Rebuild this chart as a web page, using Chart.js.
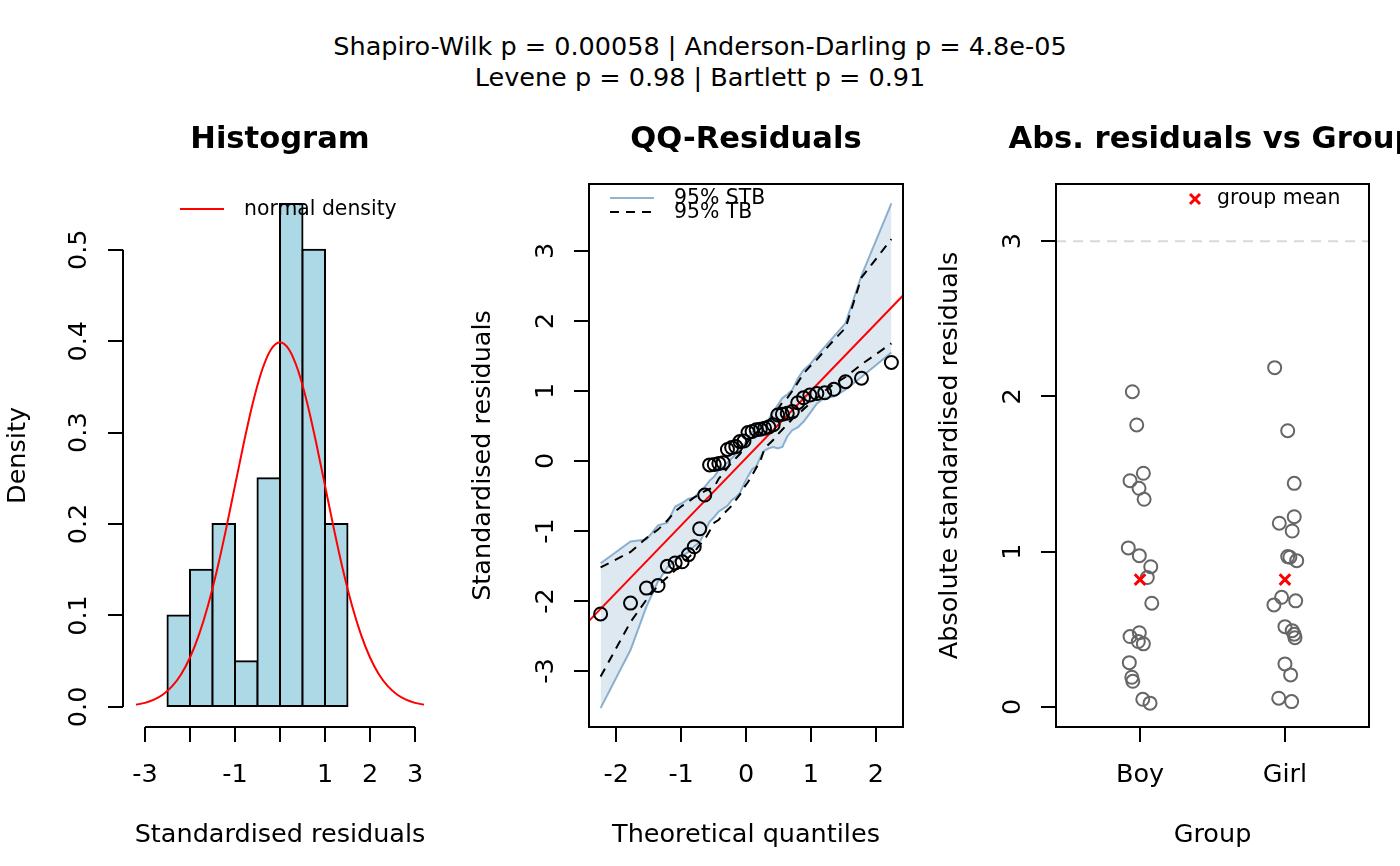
<!DOCTYPE html>
<html><head><meta charset="utf-8">
<script src="https://cdn.jsdelivr.net/npm/chart.js@4.4.1/dist/chart.umd.min.js"></script>
<style>
html,body{margin:0;padding:0;background:#fff;width:1400px;height:866px;overflow:hidden;}
#wrap{position:relative;width:1400px;height:866px;}
canvas{position:absolute;left:0;top:0;}
#sup{position:absolute;left:0;top:31px;width:1400px;text-align:center;font-family:'DejaVu Sans';font-size:25.5px;line-height:31px;color:#000;}
</style></head><body>
<div id="wrap">
<div id="sup"><div>Shapiro-Wilk p = 0.00058 | Anderson-Darling p = 4.8e-05</div><div>Levene p = 0.98 | Bartlett p = 0.91</div></div>
<canvas id="c1" width="1400" height="866"></canvas>
<canvas id="c2" width="1400" height="866"></canvas>
<canvas id="c3" width="1400" height="866"></canvas>
</div>
<script>
// ---------- Panel 1: histogram ----------
const histBinMids = [-2.25,-1.75,-1.25,-0.75,-0.25,0.25,0.75,1.25];
const histDensity = [0.10,0.15,0.20,0.05,0.25,0.55,0.50,0.20];
const normX = [-3.2,-3.0,-2.8,-2.6,-2.4,-2.2,-2.0,-1.8,-1.6,-1.4,-1.2,-1.0,-0.8,-0.6,-0.4,-0.2,0,0.2,0.4,0.6,0.8,1.0,1.2,1.4,1.6,1.8,2.0,2.2,2.4,2.6,2.8,3.0,3.2];
const normY = [0.0024,0.0044,0.0079,0.0136,0.0224,0.0355,0.0540,0.0790,0.1109,0.1497,0.1942,0.2420,0.2897,0.3332,0.3683,0.3910,0.3989,0.3910,0.3683,0.3332,0.2897,0.2420,0.1942,0.1497,0.1109,0.0790,0.0540,0.0355,0.0224,0.0136,0.0079,0.0044,0.0024];
const histXTicks = [-3,-2,-1,0,1,2,3];
const histXTickLabels = ['-3','','-1','','1','2','3'];
const histYTicks = [0,0.1,0.2,0.3,0.4,0.5];
const histYTickLabels = ['0.0','0.1','0.2','0.3','0.4','0.5'];
const normLabel = 'normal density';

// ---------- Panel 2: QQ residuals ----------
const qqTheoretical = [-2.241,-1.780,-1.534,-1.356,-1.213,-1.092,-0.984,-0.887,-0.798,-0.714,-0.636,-0.561,-0.489,-0.419,-0.352,-0.286,-0.221,-0.157,-0.094,-0.031,0.031,0.094,0.157,0.221,0.286,0.352,0.419,0.489,0.561,0.636,0.714,0.798,0.887,0.984,1.092,1.213,1.356,1.534,1.780,2.241];
const qqSample = [-2.185,-2.03,-1.816,-1.779,-1.505,-1.457,-1.44,-1.337,-1.225,-0.968,-0.486,-0.056,-0.049,-0.034,-0.024,0.165,0.191,0.206,0.277,0.285,0.406,0.421,0.446,0.453,0.468,0.485,0.517,0.657,0.668,0.683,0.706,0.833,0.903,0.942,0.964,0.974,1.024,1.133,1.183,1.408];
const stbUpper = [-1.46,-1.15,-1.12,-0.92,-0.88,-0.65,-0.60,-0.54,-0.52,-0.44,-0.37,-0.28,-0.22,-0.13,-0.08,-0.02,0.04,0.10,0.15,0.23,0.33,0.42,0.46,0.50,0.55,0.60,0.70,0.80,0.90,0.95,1.02,1.18,1.30,1.38,1.50,1.63,1.78,1.97,2.65,3.68];
const stbLower = [-3.53,-2.70,-2.08,-1.72,-1.52,-1.42,-1.36,-1.30,-1.22,-1.16,-1.02,-0.87,-0.80,-0.72,-0.68,-0.64,-0.56,-0.52,-0.46,-0.33,-0.22,-0.12,-0.08,0.05,0.15,0.18,0.20,0.18,0.20,0.35,0.44,0.48,0.56,0.68,0.82,0.90,0.92,1.02,1.20,1.55];
const tbUpper = [-1.52,-1.30,-1.10,-0.98,-0.85,-0.72,-0.64,-0.58,-0.52,-0.48,-0.43,-0.40,-0.37,-0.25,-0.18,-0.10,-0.02,0.04,0.10,0.18,0.28,0.35,0.40,0.46,0.52,0.58,0.64,0.74,0.84,0.90,1.00,1.12,1.25,1.35,1.45,1.58,1.73,1.90,2.62,3.17];
const tbLower = [-3.08,-2.30,-1.98,-1.78,-1.66,-1.56,-1.46,-1.38,-1.30,-1.20,-1.12,-1.00,-0.88,-0.84,-0.76,-0.70,-0.64,-0.56,-0.48,-0.38,-0.30,-0.20,-0.10,0.00,0.18,0.24,0.30,0.38,0.45,0.52,0.60,0.66,0.74,0.82,0.90,1.00,1.10,1.20,1.38,1.68];
const qqLineIntercept = 0.04;
const qqLineSlope = 0.96;
const qqXTicks = [-2,-1,0,1,2];
const qqXTickLabels = ['-2','-1','0','1','2'];
const qqYTicks = [-3,-2,-1,0,1,2,3];
const qqYTickLabels = ['-3','-2','-1','0','1','2','3'];
const stbLabel = '95% STB';
const tbLabel = '95% TB';

// ---------- Panel 3: abs residuals vs group ----------
const groups = ['Boy','Girl'];
const boyAbsResid = [2.03,1.816,1.505,1.457,1.408,1.337,1.024,0.974,0.903,0.833,0.668,0.478,0.453,0.421,0.406,0.285,0.191,0.165,0.049,0.024];
const boyJitter   = [-0.053,-0.023,0.023,-0.069,-0.007,0.028,-0.081,-0.005,0.074,0.050,0.081,-0.005,-0.069,-0.012,0.023,-0.074,-0.057,-0.050,0.019,0.069];
const girlAbsResid = [2.185,1.779,1.44,1.225,1.183,1.133,0.968,0.964,0.942,0.706,0.657,0.683,0.517,0.491,0.468,0.446,0.277,0.206,0.056,0.034];
const girlJitter   = [-0.071,0.019,0.064,0.064,-0.039,0.050,0.019,0.034,0.081,-0.023,-0.076,0.074,0.000,0.050,0.064,0.069,0.000,0.039,-0.043,0.046];
const groupMeans = [0.82,0.82];
const refLevel = 3;
const grpYTicks = [0,1,2,3];
const grpYTickLabels = ['0','1','2','3'];
const meanLabel = 'group mean';

// ---------- helpers ----------
const F = 'DejaVu Sans';
const FS = 25.5;
const common = {responsive:false, maintainAspectRatio:false, animation:false, devicePixelRatio:1, events:[]};

function xScale(min,max,ticks,labels,title){
  return {type:'linear', position:'bottom', min:min, max:max, bounds:'data', offset:false,
    afterBuildTicks: s => { s.ticks = ticks.map(v => ({value:v})); },
    afterFit: s => { s.height = 139; },
    grid:{offset:false, drawOnChartArea:false, drawTicks:true, tickLength:15, color:'#000', lineWidth:2},
    border:{display:false},
    ticks:{autoSkip:false, minRotation:0, maxRotation:0, padding:18.5, color:'#000', font:{family:F,size:FS}, callback:(v,i)=>labels[i]},
    title:{display:true, text:title, color:'#000', font:{family:F,size:FS}, padding:{top:0,bottom:15.5}}
  };
}
function yScale(min,max,ticks,labels,width,pad,title){
  return {type:'linear', position:'left', min:min, max:max, bounds:'data',
    afterBuildTicks: s => { s.ticks = ticks.map(v => ({value:v})); },
    afterFit: s => { s.width = width; },
    grid:{drawOnChartArea:false, drawTicks:true, tickLength:15, color:'#000', lineWidth:2},
    border:{display:false},
    ticks:{autoSkip:false, minRotation:90, maxRotation:90, crossAlign:'center', padding:pad, color:'#000', font:{family:F,size:FS}, callback:(v,i)=>labels[i]},
    title:{display:true, text:title, color:'#000', font:{family:F,size:FS}, padding:{top:2.7,bottom:0}}
  };
}

const rDeco = {
  id:'rDeco',
  afterDraw(chart, args, o){
    const ctx = chart.ctx, a = chart.chartArea;
    ctx.save();
    ctx.strokeStyle = '#000'; ctx.lineWidth = 2; ctx.setLineDash([]);
    if (o.box) ctx.strokeRect(a.left, a.top, a.right - a.left, a.bottom - a.top);
    if (o.axisLines) {
      const xs = chart.scales.x, ys = chart.scales.y, xt = xs.ticks, yt = ys.ticks;
      ctx.beginPath();
      ctx.moveTo(xs.getPixelForValue(xt[0].value), a.bottom);
      ctx.lineTo(xs.getPixelForValue(xt[xt.length-1].value), a.bottom);
      ctx.moveTo(a.left, ys.getPixelForValue(yt[0].value));
      ctx.lineTo(a.left, ys.getPixelForValue(yt[yt.length-1].value));
      ctx.stroke();
    }
    if (o.title) {
      ctx.fillStyle = '#000'; ctx.font = 'bold 30.6px "DejaVu Sans"';
      ctx.textAlign = 'center'; ctx.textBaseline = 'middle';
      ctx.fillText(o.title, (a.left + a.right) / 2, 140);
    }
    (o.legend || []).forEach(it => {
      if (it.kind === 'line') {
        ctx.beginPath(); ctx.strokeStyle = it.color; ctx.lineWidth = it.width; ctx.setLineDash(it.dash || []);
        ctx.moveTo(it.x1, it.y); ctx.lineTo(it.x2, it.y); ctx.stroke(); ctx.setLineDash([]);
      } else if (it.kind === 'text') {
        ctx.fillStyle = '#000'; ctx.font = '20.4px "DejaVu Sans"'; ctx.textAlign = 'left'; ctx.textBaseline = 'middle';
        ctx.fillText(it.text, it.x, it.y);
      } else if (it.kind === 'cross') {
        ctx.beginPath(); ctx.strokeStyle = it.color; ctx.lineWidth = 3;
        ctx.moveTo(it.x - it.r, it.y - it.r); ctx.lineTo(it.x + it.r, it.y + it.r);
        ctx.moveTo(it.x - it.r, it.y + it.r); ctx.lineTo(it.x + it.r, it.y - it.r); ctx.stroke();
      }
    });
    ctx.restore();
  }
};

// ---------- Chart 1 ----------
new Chart(document.getElementById('c1'), {
  type:'bar',
  data:{datasets:[
    {type:'line', label:normLabel, data:normX.map((x,i)=>({x:x, y:normY[i]})), borderColor:'#ff0000', borderWidth:2, pointRadius:0, cubicInterpolationMode:'monotone', fill:false, order:0},
    {type:'bar', label:'Density', data:histBinMids.map((x,i)=>({x:x, y:histDensity[i]})), backgroundColor:'#add8e6', borderColor:'#000', borderWidth:2, borderSkipped:false, inflateAmount:1, barPercentage:1, categoryPercentage:1, order:1}
  ]},
  options:Object.assign({}, common, {
    layout:{padding:{left:0, right:963, top:184, bottom:0}},
    scales:{
      x: xScale(-3.489, 3.489, histXTicks, histXTickLabels, 'Standardised residuals'),
      y: yScale(-0.022, 0.572, histYTicks, histYTickLabels, 123, 8.7, 'Density')
    },
    plugins:{legend:{display:false}, tooltip:{enabled:false},
      rDeco:{axisLines:true, title:'Histogram', legend:[
        {kind:'line', x1:180, x2:224, y:209, color:'#ff0000', width:2},
        {kind:'text', x:244, y:210, text:normLabel}
      ]}}
  }),
  plugins:[rDeco]
});

// ---------- Chart 2 ----------
const qqXMin = -2.42, qqXMax = 2.42;
new Chart(document.getElementById('c2'), {
  type:'scatter',
  data:{datasets:[
    {type:'line', label:stbLabel, data:qqTheoretical.map((x,i)=>({x:x, y:stbUpper[i]})), borderColor:'rgba(70,130,180,0.6)', backgroundColor:'rgba(70,130,180,0.18)', borderWidth:2, pointRadius:0, tension:0, fill:'+1', order:10},
    {type:'line', label:stbLabel + ' lower', data:qqTheoretical.map((x,i)=>({x:x, y:stbLower[i]})), borderColor:'rgba(70,130,180,0.6)', borderWidth:2, pointRadius:0, tension:0, fill:false, order:9},
    {type:'line', label:tbLabel, data:qqTheoretical.map((x,i)=>({x:x, y:tbUpper[i]})), borderColor:'#000', borderDash:[9,7], borderWidth:2, pointRadius:0, tension:0, fill:false, order:5},
    {type:'line', label:tbLabel + ' lower', data:qqTheoretical.map((x,i)=>({x:x, y:tbLower[i]})), borderColor:'#000', borderDash:[9,7], borderWidth:2, pointRadius:0, tension:0, fill:false, order:5},
    {type:'line', label:'QQ line', data:[qqXMin, qqXMax].map(x=>({x:x, y:qqLineIntercept + qqLineSlope*x})), borderColor:'#ff0000', borderWidth:2, pointRadius:0, fill:false, order:2},
    {type:'scatter', label:'Standardised residuals', data:qqTheoretical.map((x,i)=>({x:x, y:qqSample[i]})), pointRadius:6.5, pointBorderWidth:2, borderColor:'#000', backgroundColor:'rgba(0,0,0,0)', pointBackgroundColor:'rgba(0,0,0,0)', pointBorderColor:'#000', order:0}
  ]},
  options:Object.assign({}, common, {
    layout:{padding:{left:465, right:497, top:184, bottom:0}},
    scales:{
      x: xScale(qqXMin, qqXMax, qqXTicks, qqXTickLabels, 'Theoretical quantiles'),
      y: yScale(-3.8, 3.957, qqYTicks, qqYTickLabels, 124, 15.3, 'Standardised residuals')
    },
    plugins:{legend:{display:false}, tooltip:{enabled:false},
      rDeco:{box:true, title:'QQ-Residuals', legend:[
        {kind:'line', x1:610, x2:654, y:198, color:'rgba(70,130,180,0.6)', width:2},
        {kind:'line', x1:610, x2:654, y:212, color:'#000', width:2, dash:[9,7]},
        {kind:'text', x:674, y:199, text:stbLabel},
        {kind:'text', x:674, y:213, text:tbLabel}
      ]}}
  }),
  plugins:[rDeco]
});

// ---------- Chart 3 ----------
const grpXMin = 0.42, grpXMax = 2.58;
new Chart(document.getElementById('c3'), {
  type:'scatter',
  data:{datasets:[
    {type:'line', label:'threshold', data:[grpXMin, grpXMax].map(x=>({x:x, y:refLevel})), borderColor:'#d9d9d9', borderDash:[10,7], borderWidth:2, pointRadius:0, fill:false, order:5},
    {label:groups[0], data:boyAbsResid.map((v,i)=>({x:1 + boyJitter[i], y:v})), pointRadius:6.5, pointBorderWidth:2, pointBorderColor:'#666666', pointBackgroundColor:'rgba(0,0,0,0)', borderColor:'#666666', backgroundColor:'rgba(0,0,0,0)', order:2},
    {label:groups[1], data:girlAbsResid.map((v,i)=>({x:2 + girlJitter[i], y:v})), pointRadius:6.5, pointBorderWidth:2, pointBorderColor:'#666666', pointBackgroundColor:'rgba(0,0,0,0)', borderColor:'#666666', backgroundColor:'rgba(0,0,0,0)', order:2},
    {label:meanLabel, data:groupMeans.map((v,i)=>({x:i + 1, y:v})), pointStyle:'crossRot', pointRadius:7.5, pointBorderWidth:3, pointBorderColor:'#ff0000', borderColor:'#ff0000', order:0}
  ]},
  options:Object.assign({}, common, {
    layout:{padding:{left:932, right:31, top:184, bottom:0}},
    scales:{
      x: xScale(grpXMin, grpXMax, [1,2], groups, 'Group'),
      y: yScale(-0.1295, 3.368, grpYTicks, grpYTickLabels, 124, 19.9, 'Absolute standardised residuals')
    },
    plugins:{legend:{display:false}, tooltip:{enabled:false},
      rDeco:{box:true, title:'Abs. residuals vs Group', legend:[
        {kind:'cross', x:1195, y:199, r:5, color:'#ff0000'},
        {kind:'text', x:1217, y:199, text:meanLabel}
      ]}}
  }),
  plugins:[rDeco]
});
</script>
</body></html>
